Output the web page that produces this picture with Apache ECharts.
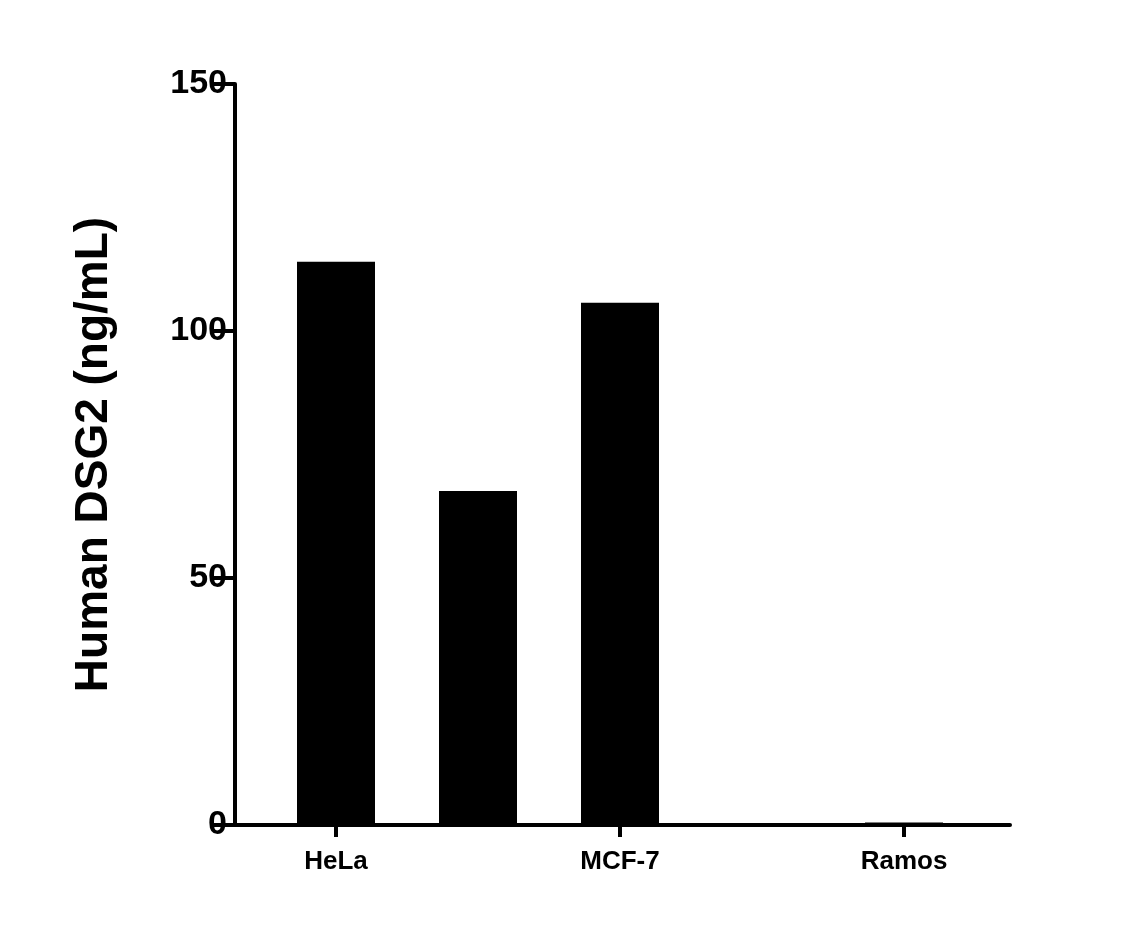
<!DOCTYPE html>
<html><head><meta charset="utf-8">
<script src="https://cdn.jsdelivr.net/npm/echarts@6/dist/echarts.min.js"></script>
<style>html,body{margin:0;background:#fff}#c{width:1124px;height:933px}</style>
</head><body><div id="c"></div>
<script>
const categories=["HeLa","HepG2","MCF-7","SH-SY5Y","Ramos"];
const values=[114,67.6,105.7,0.3,0.5];
const yTicks=[0,50,100,150];
const chart=echarts.init(document.getElementById('c'));
const F='Arial, Liberation Sans, sans-serif';
chart.setOption({
  animation:false,
  grid:[{left:265,right:149,top:84,bottom:108},{left:235,right:114,top:84,bottom:108}],
  xAxis:[{type:'category',data:categories,gridIndex:0,
    axisLine:{show:false},
    axisTick:{show:true,alignWithLabel:true,length:12,lineStyle:{color:'#000',width:4}},
    axisLabel:{color:'#000',fontFamily:F,fontWeight:'bold',fontSize:26,margin:24}},
    {type:'value',gridIndex:1,min:0,max:1,axisLine:{show:true,lineStyle:{color:'#000',width:4}},
    axisTick:{show:false},axisLabel:{show:false},splitLine:{show:false}}],
  yAxis:[{type:'value',gridIndex:0,min:0,max:150,interval:50,offset:30,
    axisLine:{show:true,lineStyle:{color:'#000',width:4}},
    axisTick:{show:true,length:24,lineStyle:{color:'#000',width:4}},
    axisLabel:{color:'#000',fontFamily:F,fontWeight:'bold',fontSize:34,margin:8},
    splitLine:{show:false},
    name:'Human DSG2 (ng/mL)',nameLocation:'middle',nameGap:118,
    nameTextStyle:{color:'#000',fontFamily:F,fontWeight:'bold',fontSize:46}},
    {type:'value',gridIndex:1,show:false}],
  series:[{type:'bar',data:values,xAxisIndex:0,yAxisIndex:0,barWidth:78,
    itemStyle:{color:'#000'}}]
});
</script></body></html>
